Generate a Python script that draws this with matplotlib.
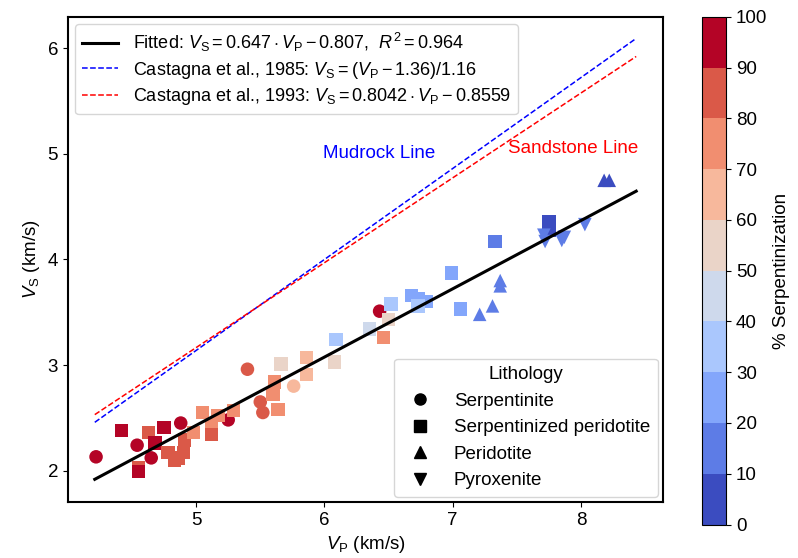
import numpy as np
import matplotlib
matplotlib.use("Agg")
import matplotlib.pyplot as plt
from matplotlib.colors import BoundaryNorm
from matplotlib.lines import Line2D

plt.rcParams["font.family"] = ["Liberation Sans", "DejaVu Sans"]
plt.rcParams["font.size"] = 13.5
plt.rcParams["mathtext.fontset"] = "custom"
plt.rcParams["mathtext.rm"] = "Liberation Sans"
plt.rcParams["mathtext.it"] = "Liberation Sans:italic"

# Vp, Vs (km/s) and % serpentinization per lithology
serp_vp = [4.22, 4.54, 4.65, 4.88, 5.25, 5.40, 5.50, 5.52, 5.76, 6.43]
serp_vs = [2.13, 2.24, 2.12, 2.45, 2.48, 2.96, 2.65, 2.55, 2.80, 3.51]
serp_pct = [95, 95, 95, 92, 95, 85, 85, 85, 65, 95]

sp_vp = [4.42, 4.55, 4.55, 4.63, 4.68, 4.75, 4.78, 4.83, 4.86, 4.90, 4.91,
         4.98, 5.05, 5.12, 5.12, 5.17, 5.29, 5.60, 5.61, 5.64, 5.66, 5.86,
         5.86, 6.08, 6.09, 6.35, 6.46, 6.50, 6.52, 6.68, 6.73, 6.79, 6.73,
         6.99, 7.06, 7.33, 7.75, 7.75]
sp_vs = [2.38, 2.03, 1.99, 2.36, 2.26, 2.41, 2.17, 2.10, 2.12, 2.17, 2.29,
         2.36, 2.55, 2.42, 2.34, 2.52, 2.57, 2.72, 2.84, 2.58, 3.01, 3.07,
         2.91, 3.03, 3.24, 3.34, 3.26, 3.43, 3.58, 3.66, 3.63, 3.60, 3.56,
         3.87, 3.53, 4.17, 4.36, 4.28]
sp_pct = [95, 85, 95, 82, 95, 95, 82, 82, 85, 82, 85,
          75, 75, 75, 82, 75, 75, 72, 70, 75, 55, 68,
          68, 55, 35, 45, 75, 55, 38, 28, 28, 28, 32,
          28, 28, 15, 5, 5]

per_vp = [7.21, 7.31, 7.37, 7.37, 8.18, 8.22]
per_vs = [3.48, 3.56, 3.80, 3.75, 4.75, 4.75]
per_pct = [15, 15, 15, 15, 5, 5]

pyx_vp = [7.71, 7.72, 7.85, 7.87, 8.03]
pyx_vs = [4.23, 4.17, 4.18, 4.21, 4.33]
pyx_pct = [12, 12, 12, 12, 12]

# range over which the relations are drawn
line_vp = np.array([4.21, 8.43])

fig = plt.figure(figsize=(7.98, 5.58), dpi=100)
ax = fig.add_axes([0.085, 0.100, 0.746, 0.870])
cax = fig.add_axes([0.880, 0.060, 0.030, 0.910])

cmap = plt.get_cmap("coolwarm", 10)
norm = BoundaryNorm(np.arange(0, 101, 10), cmap.N)

groups = [
    (serp_vp, serp_vs, serp_pct, "o"),
    (sp_vp, sp_vs, sp_pct, "s"),
    (per_vp, per_vs, per_pct, "^"),
    (pyx_vp, pyx_vs, pyx_pct, "v"),
]
for vp, vs, pct, m in groups:
    sc = ax.scatter(vp, vs, c=pct, cmap=cmap, norm=norm, marker=m, s=95,
                    edgecolors="none", zorder=3)

h1, = ax.plot(line_vp, 0.647 * line_vp - 0.807, color="black", lw=2.2, zorder=4)
h2, = ax.plot(line_vp, (line_vp - 1.36) / 1.16, color="blue", ls="--", lw=1.1)
h3, = ax.plot(line_vp, 0.8042 * line_vp - 0.8559, color="red", ls="--", lw=1.1)

ax.text(6.43, 5.0, "Mudrock Line", color="blue", ha="center", va="center")
ax.text(7.94, 5.05, "Sandstone Line", color="red", ha="center", va="center")

leg1 = ax.legend(
    [h1, h2, h3],
    [r"Fitted: $V_\mathrm{S} = 0.647 \cdot V_\mathrm{P} - 0.807$,  $R^2 = 0.964$",
     r"Castagna et al., 1985: $V_\mathrm{S} = (V_\mathrm{P} - 1.36)/1.16$",
     r"Castagna et al., 1993: $V_\mathrm{S} = 0.8042 \cdot V_\mathrm{P} - 0.8559$"],
    loc="upper left", fontsize=13, borderaxespad=0.4, labelspacing=0.3)
ax.add_artist(leg1)

lith_handles = [
    Line2D([], [], marker="o", color="black", ls="none", markersize=8),
    Line2D([], [], marker="s", color="black", ls="none", markersize=8),
    Line2D([], [], marker="^", color="black", ls="none", markersize=8),
    Line2D([], [], marker="v", color="black", ls="none", markersize=8),
]
ax.legend(lith_handles,
          ["Serpentinite", "Serpentinized peridotite", "Peridotite", "Pyroxenite"],
          title="Lithology", loc="lower right", fontsize=13.5, title_fontsize=13.5,
          borderaxespad=0.3, labelspacing=0.5)

ax.set_xlim(4.0, 8.64)
ax.set_ylim(1.70, 6.30)
ax.set_xticks([5, 6, 7, 8])
ax.set_yticks([2, 3, 4, 5, 6])
ax.set_xlabel(r"$V_\mathrm{P}$ (km/s)")
ax.set_ylabel(r"$V_\mathrm{S}$ (km/s)")
for sp in ax.spines.values():
    sp.set_linewidth(1.5)

cb = fig.colorbar(sc, cax=cax, ticks=np.arange(0, 101, 10))
cb.set_label("% Serpentinization")

fig.savefig("out.png", dpi=100)
